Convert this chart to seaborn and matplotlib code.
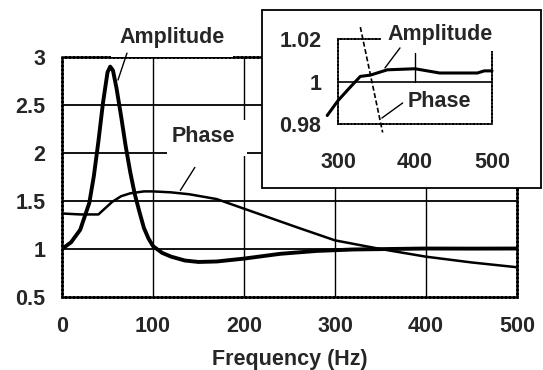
import matplotlib
matplotlib.use("Agg")
import matplotlib.pyplot as plt
import seaborn as sns
import pandas as pd
from matplotlib.patches import Rectangle

# ---- data ----
amp_freq = [0, 10, 20, 30, 35, 40, 45, 50, 53, 56, 60, 65, 70, 75, 80, 85, 90, 95,
            100, 110, 120, 135, 150, 170, 200, 240, 280, 320, 360, 400, 450, 500]
amp_vals = [1.0, 1.07, 1.2, 1.48, 1.76, 2.12, 2.52, 2.84, 2.9, 2.86, 2.67, 2.38, 2.07,
            1.8, 1.57, 1.39, 1.22, 1.11, 1.03, 0.96, 0.92, 0.88, 0.865, 0.87, 0.9, 0.95,
            0.98, 0.995, 1.0, 1.005, 1.004, 1.005]

phase_freq = [0, 20, 40, 55, 65, 75, 90, 100, 120, 140, 170, 200, 230, 260, 300, 350,
              400, 450, 500]
phase_vals = [1.37, 1.36, 1.36, 1.49, 1.55, 1.58, 1.6, 1.6, 1.59, 1.57, 1.52, 1.42,
              1.32, 1.22, 1.09, 1.0, 0.92, 0.86, 0.81]

inset_freq = [286, 300, 315, 329, 342, 364, 400, 432, 460, 481, 490, 500]
inset_amp = [0.984, 0.991, 0.997, 1.0024, 1.003, 1.0055, 1.006, 1.004, 1.004, 1.004,
             1.005, 1.005]
inset_phase_freq = [329, 358]
inset_phase = [1.0256, 0.976]

main_xticks = [0, 100, 200, 300, 400, 500]
main_yticks = [0.5, 1, 1.5, 2, 2.5, 3]
main_ytick_labels = ["0.5", "1", "1.5", "2", "2.5", "3"]
inset_xticks = [300, 400, 500]
inset_yticks = [0.98, 1, 1.02]
inset_ytick_labels = ["0.98", "1", "1.02"]

df_amp = pd.DataFrame({"f": amp_freq, "v": amp_vals})
df_ph = pd.DataFrame({"f": phase_freq, "v": phase_vals})
df_iamp = pd.DataFrame({"f": inset_freq, "v": inset_amp})
df_iph = pd.DataFrame({"f": inset_phase_freq, "v": inset_phase})

sns.set_style("white")
plt.rcParams["font.family"] = ["Liberation Sans", "DejaVu Sans"]
plt.rcParams["font.weight"] = "bold"

W, H = 543, 370
fig = plt.figure(figsize=(W / 100, H / 100), dpi=100)

def fx(px):
    return px / W

def fy(py):
    return 1 - py / H

FS = 15.5

# ---- main axes ----
ax = fig.add_axes([fx(62), fy(297), fx(517 - 62), fy(57) - fy(297)])
ax.set_xlim(0, 500)
ax.set_ylim(0.5, 3)
for v in main_yticks[1:-1]:
    ax.axhline(v, color="black", lw=1.3, zorder=1)
for v in main_xticks[1:-1]:
    ax.axvline(v, color="black", lw=1.0, zorder=1)

sns.lineplot(data=df_amp, x="f", y="v", ax=ax, color="black", lw=2.8, zorder=3)
sns.lineplot(data=df_ph, x="f", y="v", ax=ax, color="black", lw=1.8, zorder=3)

ax.set_xticks(main_xticks)
ax.set_xticklabels([str(t) for t in main_xticks])
ax.set_yticks(main_yticks)
ax.set_yticklabels(main_ytick_labels)
ax.tick_params(length=0, labelsize=FS, pad=12)
ax.tick_params(axis="x", pad=14)
ax.set_xlabel("Frequency (Hz)", fontsize=FS, fontweight="bold", labelpad=8)
ax.set_ylabel("")
for s in ax.spines.values():
    s.set_visible(True)
    s.set_color("black")
    s.set_linewidth(1.8)
    s.set_linestyle((0, (1.2, 0.4)))

# white area behind Phase label
ax.add_patch(Rectangle((115, 1.97), 88, 0.37, facecolor="white", edgecolor="none",
                       zorder=4, transform=ax.transData, clip_on=False))

ax.text(121, 3.2, "Amplitude", fontsize=FS, fontweight="bold", ha="center",
        va="center", zorder=6, clip_on=False,
        bbox=dict(facecolor="white", edgecolor="none", pad=6))
ax.annotate("", xy=(61.5, 2.76), xytext=(71.4, 3.04), zorder=6,
            annotation_clip=False,
            arrowprops=dict(arrowstyle="-", color="black", lw=1.0,
                            shrinkA=0, shrinkB=0))
ax.text(155, 2.17, "Phase", fontsize=FS, fontweight="bold", ha="center",
        va="center", zorder=6)
ax.annotate("", xy=(130, 1.61), xytext=(146, 1.85), zorder=6,
            arrowprops=dict(arrowstyle="-", color="black", lw=1.0,
                            shrinkA=0, shrinkB=0))

# ---- inset box ----
box = Rectangle((fx(262), fy(188)), fx(541 - 262), fy(10) - fy(188),
                transform=fig.transFigure, facecolor="white", edgecolor="black",
                lw=1.3, zorder=5)
fig.patches.append(box)

iax = fig.add_axes([fx(338), fy(124), fx(492 - 338), fy(39) - fy(124)], zorder=6)
iax.set_facecolor("none")
iax.set_xlim(300, 500)
iax.set_ylim(0.98, 1.02)
iax.axhline(1.0, color="black", lw=1.2, zorder=1)
iax.plot([400, 400], [1.0, 1.0135], color="black", lw=1.0, zorder=1)
sns.lineplot(data=df_iamp, x="f", y="v", ax=iax, color="black", lw=2.2, zorder=3)
sns.lineplot(data=df_iph, x="f", y="v", ax=iax, color="black", lw=1.2, zorder=3)
for l in iax.get_lines():
    l.set_clip_on(False)
iax.get_lines()[-1].set_linestyle((0, (3, 1.5)))

iax.set_xticks(inset_xticks)
iax.set_xticklabels([str(t) for t in inset_xticks])
iax.set_yticks(inset_yticks)
iax.set_yticklabels(inset_ytick_labels)
iax.tick_params(length=0, labelsize=FS, pad=12)
iax.tick_params(axis="x", pad=20)
iax.set_xlabel("")
iax.set_ylabel("")
for s in iax.spines.values():
    s.set_visible(True)
    s.set_color("black")
    s.set_linewidth(1.2)
    s.set_linestyle((0, (1.5, 0.6)))

iax.text(432, 1.0219, "Amplitude", fontsize=FS, fontweight="bold", ha="center",
         va="center", zorder=7, clip_on=False,
         bbox=dict(facecolor="white", edgecolor="none", pad=4))
iax.annotate("", xy=(361, 1.0064), xytext=(380.5, 1.0158), zorder=7,
             annotation_clip=False,
             arrowprops=dict(arrowstyle="-", color="black", lw=1.0,
                             shrinkA=0, shrinkB=0))
iax.text(432, 0.9908, "Phase", fontsize=FS, fontweight="bold", ha="center",
         va="center", zorder=7)
iax.annotate("", xy=(357, 0.9828), xytext=(384, 0.9899), zorder=7,
             annotation_clip=False,
             arrowprops=dict(arrowstyle="-", color="black", lw=1.0,
                             shrinkA=0, shrinkB=0))

fig.savefig("out.png", dpi=100)
